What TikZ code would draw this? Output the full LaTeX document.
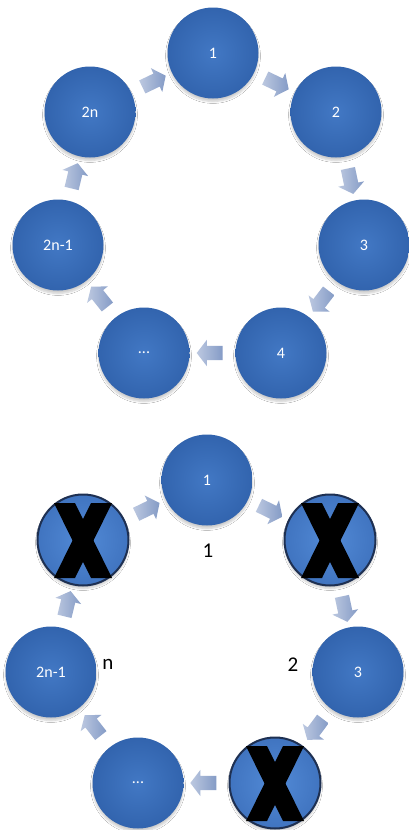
\documentclass[tikz,border=0pt]{standalone}
\usepackage{fontspec}
\setmainfont{Carlito}
\usetikzlibrary{shapes.arrows,shadows.blur}
\definecolor{circin}{RGB}{66,120,196}
\definecolor{circout}{RGB}{50,100,174}
\definecolor{xin}{RGB}{82,138,214}
\definecolor{xout}{RGB}{64,116,192}
\definecolor{xrim}{RGB}{30,48,82}
\definecolor{arrl}{RGB}{188,200,224}
\definecolor{arrd}{RGB}{132,155,198}
\tikzset{
 ball/.style={circle, minimum size=91pt, inner sep=0pt, shading=radial, inner color=circin, outer color=circout, text=white, font=\fontsize{16}{19}\selectfont, blur shadow={shadow xshift=0pt, shadow yshift=-3pt, shadow opacity=20, shadow blur steps=6}},
 xball/.style={ball, draw=xrim, line width=2pt, inner color=xin, outer color=xout},
 cyc/.style={single arrow, draw=none, inner sep=7pt, single arrow head extend=6pt, single arrow tip angle=105, minimum height=26pt, left color=arrl, right color=arrd, sloped, allow upside down},
 lab/.style={font=\fontsize{21}{24}\selectfont, text=black},
 xmark/.pic={
   \fill[black] (-29,-37) -- (-8,-37) -- (29,38) -- (8,38) -- cycle;
   \fill[black] (8,-37) -- (29,-37) -- (-8,38) -- (-29,38) -- cycle;
 }
}
\begin{document}
\begin{tikzpicture}[x=1pt,y=-1pt]
\fill[white] (0,0) rectangle (409,830);
\useasboundingbox (0,0) rectangle (409,830);
% top cycle
\node[ball] (t1) at (213,53) {1};
\node[ball] (t2) at (336,112) {2};
\node[ball] (t3) at (364,245) {3};
\node[ball] (t4) at (281,353) {4};
\node[ball] (td) at (144,353) {...};
\node[ball] (t2n1) at (58,245) {2n-1};
\node[ball] (t2n) at (90,112) {2n};
\path (t2n) -- (t1) node[midway, cyc] (ta1) {};
\path (t1) -- (t2) node[midway, cyc] (ta2) {};
\path (t2) -- (t3) node[midway, cyc] (ta3) {};
\path (t3) -- (t4) node[midway, cyc] (ta4) {};
\path (t4) -- (td) node[midway, cyc] (ta5) {};
\path (td) -- (t2n1) node[midway, cyc] (ta6) {};
\path (t2n1) -- (t2n) node[midway, cyc] (ta7) {};
% bottom cycle
\node[ball] (b1) at (207,480) {1};
\node[xball] (b2) at (330,540) {};
\node[ball] (b3) at (358,672) {3};
\node[xball] (b4) at (275,783) {};
\node[ball] (bd) at (138,783) {...};
\node[ball] (b2n1) at (51,672) {2n-1};
\node[xball] (b2n) at (83,540) {};
\pic at (b2) {xmark};
\pic at (b4) {xmark};
\pic at (b2n) {xmark};
\path (b2n) -- (b1) node[midway, cyc] (ba1) {};
\path (b1) -- (b2) node[midway, cyc] (ba2) {};
\path (b2) -- (b3) node[midway, cyc] (ba3) {};
\path (b3) -- (b4) node[midway, cyc] (ba4) {};
\path (b4) -- (bd) node[midway, cyc] (ba5) {};
\path (bd) -- (b2n1) node[midway, cyc] (ba6) {};
\path (b2n1) -- (b2n) node[midway, cyc] (ba7) {};
\node[lab] (l1) at (208,551) {1};
\node[lab] (ln) at (108,664) {n};
\node[lab] (l2) at (293,665) {2};
\end{tikzpicture}
\end{document}
